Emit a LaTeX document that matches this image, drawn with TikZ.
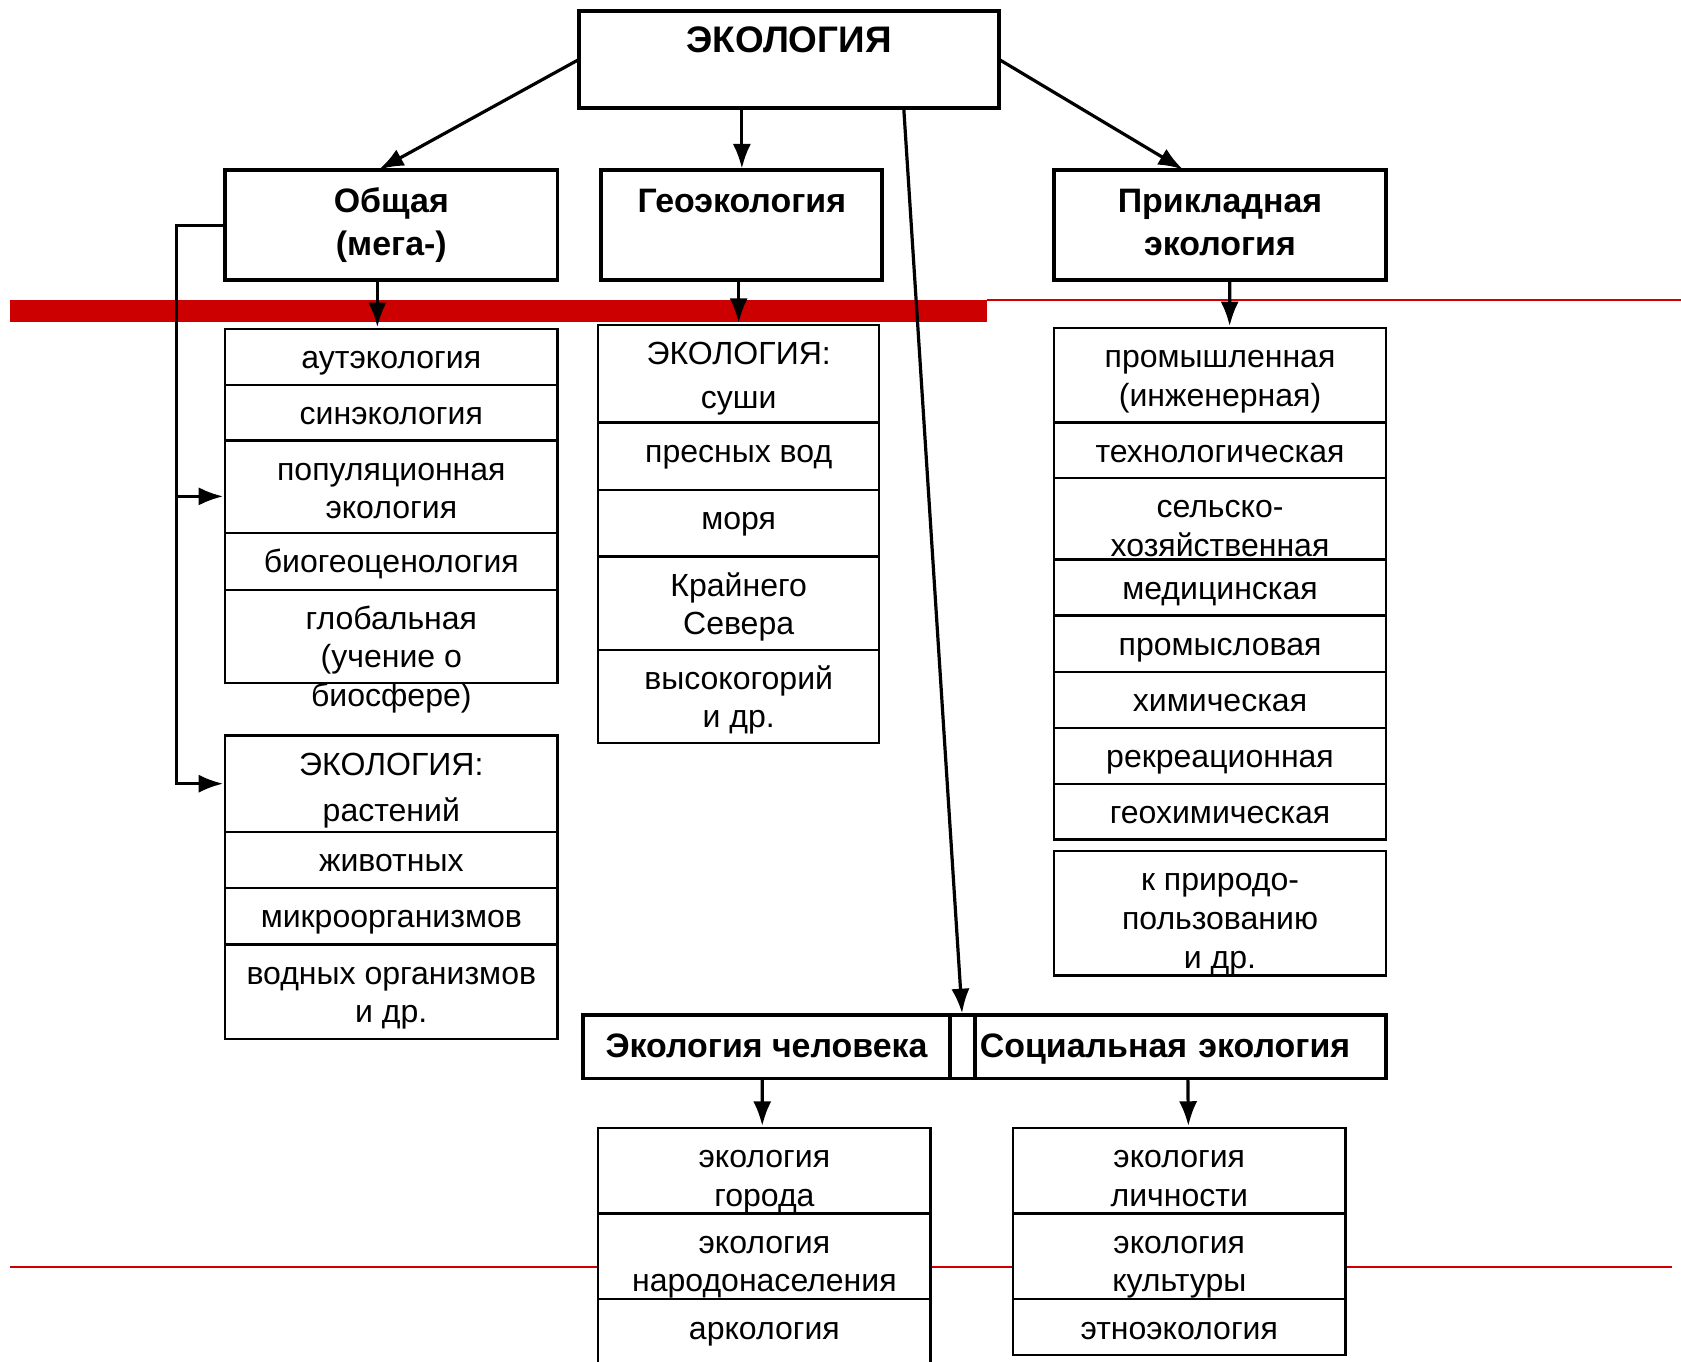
\documentclass[tikz,border=0pt]{standalone}
\usepackage{fontspec}
\setmainfont{Liberation Sans}
\usetikzlibrary{arrows.meta,positioning}

\definecolor{bandred}{HTML}{CC0000}
\newcommand{\mlines}[1]{\begin{tabular}[t]{@{}c@{}}#1\end{tabular}}
\newcommand{\listfont}{\fontsize{8.5}{10.24}\selectfont}
\newcommand{\headerfont}{\fontsize{9}{11.4}\selectfont\bfseries}

\begin{document}
\begin{tikzpicture}[>={Latex[length=0.23cm,width=0.17cm]},
    head/.style={draw, line width=1.05pt, fill=white, inner sep=0pt, outer sep=0pt,
      font=\headerfont, minimum height=#1, text height=0.28cm,
      /utils/exec={\pgfmathsetlengthmacro\boxdp{#1-0.506cm}}, text depth=\boxdp},
    row/.style={draw, line width=0.6pt, fill=white, inner sep=0pt, outer sep=0pt,
      font=\listfont, minimum width=3.1cm, minimum height=#1, text height=0.25cm,
      /utils/exec={\pgfmathsetlengthmacro\boxdp{#1-0.49cm}}, text depth=\boxdp},
    georow/.style={row=#1, minimum width=2.62cm}]
    \useasboundingbox (0,0) rectangle (15.68,-12.70);

    % red rules
    \fill[bandred] (0.09,-2.80) rectangle (9.21,-3.00);
    \draw[bandred, line width=0.6pt] (9.21,-2.80) -- (15.68,-2.80);
    \draw[bandred, line width=0.45pt] (0.09,-11.82) -- (15.60,-11.82);

    \node[head=0.91cm, minimum width=3.92cm, anchor=north west, font=\fontsize{9.8}{11.4}\selectfont\bfseries]
      (ecology) at (5.40,-0.10) {ЭКОЛОГИЯ};
    \node[head=1.02cm, minimum width=3.10cm, anchor=north west] (general) at (2.10,-1.59) {\mlines{Общая\\(мега-)}};
    \node[head=1.02cm, minimum width=2.62cm, right=0.41cm of general] (geo) {Геоэкология};
    \node[head=1.02cm, minimum width=3.10cm, right=1.60cm of geo] (applied) {\mlines{Прикладная\\экология}};

    % general
    \node[row=0.52cm, anchor=north west] (aut) at (2.10,-3.07) {аутэкология};
    \node[row=0.52cm, below=0pt of aut] (syn) {синэкология};
    \node[row=0.86cm, below=0pt of syn] (pop) {\mlines{популяционная\\экология}};
    \node[row=0.53cm, below=0pt of pop] (bgc) {биогеоценология};
    \node[row=0.87cm, below=0pt of bgc] (glob) {\mlines{глобальная\\(учение о\\биосфере)}};

    \node[row=0.90cm, below=0.49cm of glob] (plants) {\mlines{ЭКОЛОГИЯ:\\[0.07cm]растений}};
    \node[row=0.52cm, below=0pt of plants] (animals) {животных};
    \node[row=0.53cm, below=0pt of animals] (microbes) {микроорганизмов};
    \node[row=0.88cm, below=0pt of microbes] (aquatic) {\mlines{водных организмов\\и др.}};

    % geo
    \node[georow=0.91cm, anchor=north west] (land) at (5.58,-3.03) {\mlines{ЭКОЛОГИЯ:\\[0.05cm]суши}};
    \node[georow=0.63cm, below=0pt of land] (fresh) {пресных вод};
    \node[georow=0.62cm, below=0pt of fresh] (sea) {моря};
    \node[georow=0.87cm, below=0pt of sea] (north) {\mlines{Крайнего\\Севера}};
    \node[georow=0.87cm, below=0pt of north] (high) {\mlines{высокогорий\\и др.}};

    % applied
    \node[row=0.88cm, anchor=north west] (ind) at (9.83,-3.06) {\mlines{промышленная\\(инженерная)}};
    \node[row=0.52cm, below=0pt of ind] (tech) {технологическая};
    \node[row=0.76cm, below=0pt of tech] (agr) {\mlines{сельско-\\хозяйственная}};
    \node[row=0.52cm, below=0pt of agr] (med) {медицинская};
    \node[row=0.53cm, below=0pt of med] (fish) {промысловая};
    \node[row=0.52cm, below=0pt of fish] (chem) {химическая};
    \node[row=0.52cm, below=0pt of chem] (recr) {рекреационная};
    \node[row=0.52cm, below=0pt of recr] (geochem) {геохимическая};
    \node[row=1.16cm, below=0.11cm of geochem] (nature) {\mlines{к природо-\\пользованию\\и др.}};

    % human / social
    \node[head=0.59cm, minimum width=3.42cm, anchor=north west] (human) at (5.44,-9.47) {Экология человека};
    \node[head=0.59cm, minimum width=0.23cm, right=0pt of human] (slot) {};
    \node[head=0.59cm, minimum width=3.84cm, text width=3.74cm, align=left, inner xsep=0.05cm,
      right=0pt of slot] (social) {Социальная экология};

    \node[row=0.80cm, anchor=north west] (city) at (5.58,-10.52) {\mlines{экология\\города}};
    \node[row=0.80cm, below=0pt of city] (people) {\mlines{экология\\народонаселения}};
    \node[row=0.80cm, below=0pt of people] (arco) {аркология};

    \node[row=0.80cm, anchor=north west] (pers) at (9.45,-10.52) {\mlines{экология\\личности}};
    \node[row=0.80cm, below=0pt of pers] (cult) {\mlines{экология\\культуры}};
    \node[row=0.52cm, below=0pt of cult] (ethno) {этноэкология};

    \path[->, line width=0.85pt, shorten >=0.5pt]
    (ecology.west)                 edge ([xshift=-0.13cm]general.north)
    (ecology.south -| geo.north)   edge (geo.north)
    (ecology.east)                 edge ([xshift=-0.33cm]applied.north)
    ([xshift=1.07cm]ecology.south) edge (slot.north)
    ([xshift=-0.13cm]general.south) edge ([xshift=-0.13cm]aut.north)
    (geo.south -| land.north)      edge (land.north)
    ([xshift=0.09cm]applied.south) edge ([xshift=0.09cm]ind.north)
    ([xshift=-0.04cm]human.south)  edge ([xshift=-0.02cm]city.north)
    ([xshift=0.07cm]social.south)  edge ([xshift=0.085cm]pers.north);

    \coordinate (popin) at ([yshift=-0.09cm]pop.west);
    \draw[->, line width=0.85pt, shorten >=0.5pt]
      (general.west) -- ++(-0.45,0) coordinate (spine) |- (plants.west);
    \draw[->, line width=0.85pt, shorten >=0.5pt] (spine |- popin) -- (popin);

  \end{tikzpicture}
\end{document}
